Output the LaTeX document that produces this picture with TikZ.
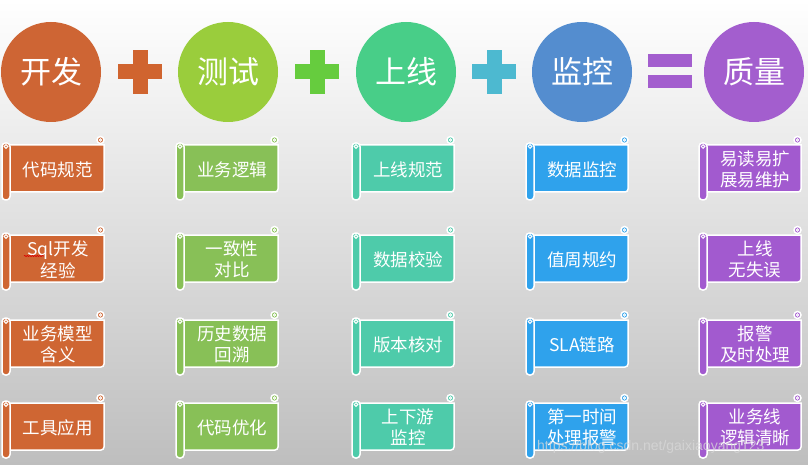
\documentclass[tikz,border=0pt]{standalone}
\usepackage{fontspec}
\newfontfamily\cjk{Noto Sans CJK SC}
\newfontfamily\wmfont{Liberation Sans}
\usetikzlibrary{decorations.pathmorphing}
\definecolor{bgbot}{RGB}{190,190,190}
\definecolor{bgmid}{RGB}{236,236,236}
\definecolor{cOne}{RGB}{206,101,52}
\definecolor{cTwo}{RGB}{154,205,60}
\definecolor{cThree}{RGB}{72,206,136}
\definecolor{cFour}{RGB}{84,141,207}
\definecolor{cFive}{RGB}{163,94,206}
\definecolor{pOne}{RGB}{208,100,47}
\definecolor{pTwo}{RGB}{102,204,62}
\definecolor{pThree}{RGB}{77,185,208}
\definecolor{bOne}{RGB}{207,102,51}
\definecolor{bTwo}{RGB}{136,192,87}
\definecolor{bThree}{RGB}{78,203,170}
\definecolor{bFour}{RGB}{47,162,236}
\definecolor{bFive}{RGB}{162,90,207}
\tikzset{
  circ/.style={circle, minimum size=100pt, inner sep=0pt, fill=#1, text=white,
    font=\cjk\fontsize{31}{31}\selectfont},
  bantext/.style={text=white, font=\cjk\fontsize{17.5}{21.5}\selectfont, align=center, inner sep=0pt},
  bline/.style={draw=white, line width=1.5pt},
}
\newcommand\scrollbanner[5]{%
  \begin{scope}[shift={(#1,#2)}]
    \filldraw[bline, fill=#3] (98.5,-5) circle (3.5);
    \draw[white, line width=0.9pt] (98.5,-5) circle (1.2);
    \filldraw[bline, fill=#3] (4,0) -- (102,0) [rounded corners=3pt] -- (102,47) -- (4,47) -- cycle;
    \filldraw[bline, fill=#3, rounded corners=3.5pt] (0,-2) rectangle (8,55);
    \draw[white, line width=1pt] (4,1.5) circle (1.8);
    \node[bantext] (#4) at (56,24.5) {#5};
  \end{scope}}
\begin{document}
\begin{tikzpicture}[x=1pt,y=-1pt]
  \useasboundingbox (0,0) rectangle (808,465);
  \shade[top color=white, middle color=bgmid, bottom color=bgbot] (0,0) rectangle (808,465);

  % top row
  \node[circ=cOne] (kf) at (51,72) {\raisebox{-2pt}{开发}};
  \node[circ=cTwo] (cs) at (228,72) {\raisebox{-2pt}{测试}};
  \node[circ=cThree] (sx) at (406,72) {\raisebox{-2pt}{上线}};
  \node[circ=cFour] (jk) at (582,72) {\raisebox{-2pt}{监控}};
  \node[circ=cFive] (zl) at (754,72) {\raisebox{-2pt}{质量}};

  \foreach \cx/\col in {140/pOne, 317/pTwo, 494/pThree}{
    \fill[\col] (\cx-22,64.5) rectangle (\cx+22,79.5);
    \fill[\col] (\cx-7.5,50) rectangle (\cx+7.5,94);
  }
  \fill[cFive] (648,54) rectangle (692,67);
  \fill[cFive] (648,75) rectangle (692,88);

  % column 1
  \scrollbanner{2}{145}{bOne}{a1}{代码规范}
  \scrollbanner{2}{235}{bOne}{a2}{Sql开发\\经验}
  \scrollbanner{2}{320}{bOne}{a3}{业务模型\\含义}
  \scrollbanner{2}{403}{bOne}{a4}{工具应用}
  \draw[red!85!black, line width=0.6pt, decorate, decoration={snake, amplitude=0.6pt, segment length=2.5pt}] (24,256) -- (44,256);
  % column 2
  \scrollbanner{176}{145}{bTwo}{b1}{业务逻辑}
  \scrollbanner{176}{235}{bTwo}{b2}{一致性\\对比}
  \scrollbanner{176}{320}{bTwo}{b3}{历史数据\\回溯}
  \scrollbanner{176}{403}{bTwo}{b4}{代码优化}
  % column 3
  \scrollbanner{352}{145}{bThree}{c1}{上线规范}
  \scrollbanner{352}{235}{bThree}{c2}{数据校验}
  \scrollbanner{352}{320}{bThree}{c3}{版本核对}
  \scrollbanner{352}{403}{bThree}{c4}{上下游\\监控}
  % column 4
  \scrollbanner{526}{145}{bFour}{d1}{数据监控}
  \scrollbanner{526}{235}{bFour}{d2}{值周规约}
  \scrollbanner{526}{320}{bFour}{d3}{SLA链路}
  \scrollbanner{526}{403}{bFour}{d4}{第一时间\\处理报警}
  % column 5
  \scrollbanner{699}{145}{bFive}{e1}{易读易扩\\展易维护}
  \scrollbanner{699}{235}{bFive}{e2}{上线\\无失误}
  \scrollbanner{699}{320}{bFive}{e3}{报警\\及时处理}
  \scrollbanner{699}{403}{bFive}{e4}{业务线\\逻辑清晰}

  % watermark
  \node[anchor=base west, inner sep=0pt, text=black!15, opacity=0.75,
        font=\wmfont\fontsize{14}{14}\selectfont] (wm) at (537,450) {https://blog.csdn.net/gaixiaoyang123};
\end{tikzpicture}
\end{document}
